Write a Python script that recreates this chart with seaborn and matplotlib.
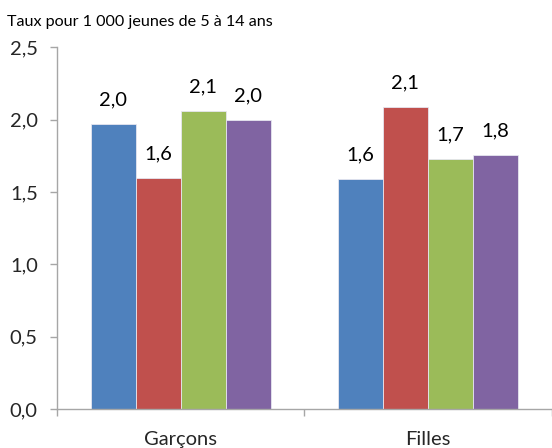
import matplotlib
matplotlib.use("Agg")
import matplotlib.pyplot as plt
import seaborn as sns
import pandas as pd

# Data
categories = ["Garçons", "Filles"]
series = ["Série 1", "Série 2", "Série 3", "Série 4"]
values_garcons = [1.97, 1.60, 2.06, 2.00]
values_filles = [1.59, 2.09, 1.73, 1.76]
colors = ["#4F81BD", "#C0504D", "#9BBB59", "#8064A2"]
y_ticks = [0.0, 0.5, 1.0, 1.5, 2.0, 2.5]
y_label = "Taux pour 1 000 jeunes de 5 à 14 ans"

df = pd.DataFrame({
    "categorie": [c for c in categories for _ in series],
    "serie": series * len(categories),
    "taux": values_garcons + values_filles,
})

sns.set_style("white")
plt.rcParams["font.family"] = ["Lato", "DejaVu Sans"]

fig = plt.figure(figsize=(5.52, 4.48), dpi=100)
ax = fig.add_axes([57.3 / 552, 1 - 409 / 448, (551.5 - 57.3) / 552, (409 - 47.5) / 448])

sns.barplot(
    data=df, x="categorie", y="taux", hue="serie", order=categories,
    hue_order=series, palette=colors, width=0.73, gap=0, ax=ax,
    edgecolor="#E6E6F0", linewidth=0.6, legend=False, saturation=1,
)

fmt = lambda v: f"{v:.1f}".replace(".", ",")
for cont in ax.containers:
    ax.bar_label(cont, labels=[fmt(b.get_height()) for b in cont],
                 padding=11, fontsize=14.5, color="black")

ax.set_ylim(0, 2.5)
ax.set_yticks(y_ticks)
ax.set_yticklabels([fmt(t) for t in y_ticks], fontsize=14.5)
ax.set_xlim(-0.5, 1.5)
ax.set_xticks([-0.5, 0.5, 1.5], minor=False)
ax.set_xticklabels([])
ax.set_xticks([0, 1], minor=True)
ax.set_xticklabels(categories, minor=True, fontsize=14.5)
ax.tick_params(axis="x", which="major", direction="out", length=5,
               width=1, color="#A6A6A6", bottom=True)
ax.tick_params(axis="x", which="minor", length=0, pad=15.5)
ax.tick_params(axis="y", direction="out", length=5, width=1,
               color="#A6A6A6", left=True, pad=9)
ax.set_xlabel("")
ax.set_ylabel("")
for side in ["top", "right"]:
    ax.spines[side].set_visible(False)
for side in ["left", "bottom"]:
    ax.spines[side].set_color("#A6A6A6")
    ax.spines[side].set_linewidth(1)

fig.text(7 / 552, 1 - 26 / 448, y_label, fontsize=11.6, ha="left",
         va="baseline", color="black")

fig.savefig("out.png", dpi=100)
